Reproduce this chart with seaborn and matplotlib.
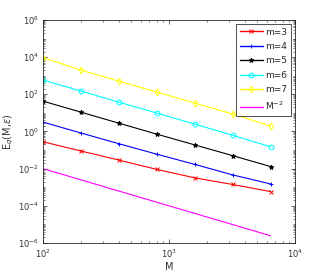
import numpy as np
import pandas as pd
import matplotlib
matplotlib.use("Agg")
import matplotlib.pyplot as plt
import seaborn as sns
from matplotlib.lines import Line2D
from matplotlib.ticker import LogLocator, NullFormatter

# datos
M = [100, 200, 400, 800, 1600, 3200, 6400]
m3 = [0.28, 0.089, 0.029, 0.0091, 0.0032, 0.0014, 0.00058]
m4 = [3.2, 0.83, 0.22, 0.060, 0.017, 0.0046, 0.0015]
m5 = [43, 11, 2.8, 0.72, 0.19, 0.050, 0.013]
m6 = [580, 150, 38, 9.8, 2.5, 0.62, 0.15]
m7 = [9500, 2000, 510, 130, 34, 8.7, 1.95]
ref = [1e-2, 2.5e-3, 6.25e-4, 1.56e-4, 3.9e-5, 9.8e-6, 2.44e-6]

series = [
    ("m=3", m3, "#ff0000", "x"),
    ("m=4", m4, "#0000ff", "+"),
    ("m=5", m5, "#000000", "*"),
    ("m=6", m6, "#00ffff", "o"),
    ("m=7", m7, "#ffff00", "d"),
    ("M$^{-2}$", ref, "#ff00ff", None),
]

sns.set_style("ticks")
plt.rcParams["font.family"] = ["DejaVu Sans"]

fig = plt.figure(figsize=(3.27, 2.73), dpi=100)
ax = fig.add_axes([0.131, 0.110, 0.771, 0.817])

handles = []
for name, vals, col, mk in series:
    df = pd.DataFrame({"M": M, "E": vals})
    face = col if mk == "*" else "none"
    sty = dict(color=col, marker=mk, markersize=3.5, markerfacecolor=face,
               markeredgecolor=col, markeredgewidth=0.7)
    sns.lineplot(data=df, x="M", y="E", ax=ax, legend=False, linewidth=0.8, **sty)
    handles.append(Line2D([], [], label=name, linewidth=1.0, **sty))

ax.set_xscale("log")
ax.set_yscale("log")
ax.set_xlim(1e2, 1e4)
ax.set_ylim(1e-6, 1e6)
ax.set_yticks([1e-6, 1e-4, 1e-2, 1e0, 1e2, 1e4, 1e6])
ax.yaxis.set_minor_locator(LogLocator(base=10, subs=np.arange(1, 10), numticks=100))
ax.yaxis.set_minor_formatter(NullFormatter())
ax.xaxis.set_minor_locator(LogLocator(base=10, subs=np.arange(2, 10), numticks=100))
ax.xaxis.set_minor_formatter(NullFormatter())

ax.tick_params(which="both", direction="in", top=True, right=True, labelsize=6, pad=3,
               labelcolor="#333333")
ax.tick_params(which="major", length=3, width=0.5)
ax.tick_params(which="minor", length=1.5, width=0.4)
for s in ax.spines.values():
    s.set_linewidth(0.6)

ax.set_xlabel("M", fontsize=7, labelpad=2, color="#333333")
ax.set_ylabel(r"E$_q$(M,$\epsilon$)", fontsize=7, labelpad=1, color="#333333")

leg = ax.legend(handles=handles, loc="upper right", fontsize=6.5, frameon=True,
                fancybox=False, edgecolor="#333333", framealpha=1, handlelength=2.5,
                borderpad=0.45, labelspacing=0.6, handletextpad=0.3,
                borderaxespad=0.4)
leg.get_frame().set_linewidth(0.6)

fig.savefig("out.png", dpi=100)
